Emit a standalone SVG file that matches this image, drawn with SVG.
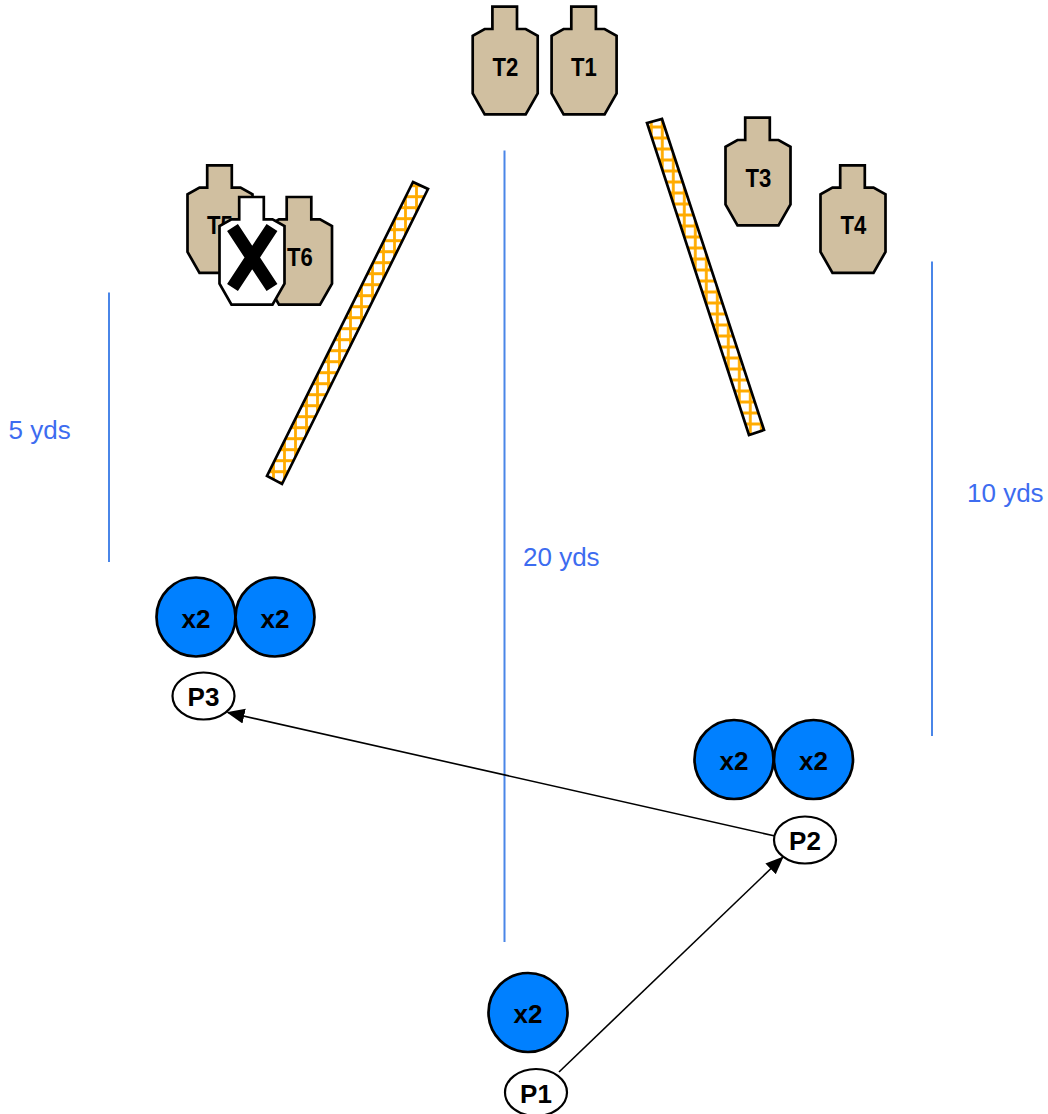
<svg xmlns="http://www.w3.org/2000/svg" width="1048" height="1114" viewBox="0 0 1048 1114">
<style>
text{font-family:"Liberation Sans",Arial,sans-serif}
.t{fill:#d0bfa0;stroke:#000;stroke-width:2.700;stroke-linejoin:miter}
.w{fill:#fff;stroke:#000;stroke-width:2.700}
.tl{font-size:26px;font-weight:bold;text-anchor:middle;fill:#000}
.lb{font-size:26px;font-weight:bold;text-anchor:middle;fill:#000}
.c{fill:#0080ff;stroke:#000;stroke-width:2.700}
.p{fill:#fff;stroke:#000;stroke-width:2.200}
.d{font-size:26px;fill:#3d6cf0}
.m{stroke:#4a86e8;stroke-width:2;fill:none}
.a{stroke:#000;stroke-width:1.600;fill:none;marker-end:url(#ah)}
.wall{stroke:#000;stroke-width:2.700}
</style>
<defs>
<path id="s" d="M19.700 0H44.300V22.300H53L65 29V86.600L53 107.600H12L0 86.600V29L12 22.300H19.700Z"/>
<marker id="ah" viewBox="0 0 12 12" refX="11" refY="6" markerWidth="18" markerHeight="18" markerUnits="userSpaceOnUse" orient="auto"><path d="M0 1L12 6L0 11Z" fill="#000"/></marker>
<pattern id="h" width="11" height="11" patternUnits="userSpaceOnUse" patternTransform="translate(4 4.200)"><rect width="11" height="11" fill="#fff"/><path d="M0 5.500H11M5.500 0V11" stroke="#ffab00" stroke-width="2.800"/></pattern>
<pattern id="h2" href="#h" patternTransform="translate(-3.200 .5)"/>
</defs>
<g id="measures">
<line class="m" x1="109" y1="292.500" x2="109" y2="562"/>
<line class="m" x1="504.500" y1="150.500" x2="504.500" y2="942"/>
<line class="m" x1="932" y1="261.500" x2="932" y2="736"/>
<text class="d" x="8.500" y="438.500">5 yds</text>
<text class="d" x="523" y="566">20 yds</text>
<text class="d" x="967" y="502">10 yds</text>
</g>
<g id="connectors">
<line class="a" x1="775" y1="836" x2="228" y2="712.500"/>
<line class="a" x1="559" y1="1072" x2="782.500" y2="857.500"/>
</g>
<g id="wall-left"><polygon class="wall" fill="url(#h)" points="413,182 428,189 282,484 267,476"/></g>
<g id="wall-right"><polygon class="wall" fill="url(#h2)" points="647,123 662,119 764,430 749,435"/></g>
<g id="T2"><use href="#s" class="t" x="472.700" y="6.700"/><text class="tl" x="505.500" y="76" transform="translate(505.500 0) scale(.85 1) translate(-505.500 0)">T2</text></g>
<g id="T1"><use href="#s" class="t" x="551.600" y="6.700"/><text class="tl" x="584" y="76" transform="translate(584 0) scale(.85 1) translate(-584 0)">T1</text></g>
<g id="T3"><use href="#s" class="t" x="725.500" y="117.700"/><text class="tl" x="758.500" y="187" transform="translate(758.500 0) scale(.85 1) translate(-758.500 0)">T3</text></g>
<g id="T4"><use href="#s" class="t" x="820.500" y="165.300"/><text class="tl" x="853.500" y="234" transform="translate(853.500 0) scale(.85 1) translate(-853.500 0)">T4</text></g>
<g id="T5"><use href="#s" class="t" x="187.500" y="165.300"/><text class="tl" x="220" y="234" transform="translate(220 0) scale(.85 1) translate(-220 0)">T5</text></g>
<g id="T6"><use href="#s" class="t" x="267" y="197"/><text class="tl" x="300" y="266" transform="translate(300 0) scale(.85 1) translate(-300 0)">T6</text></g>
<g id="no-shoot"><use href="#s" class="w" x="219.500" y="197"/><path d="M232.500 227.500L272 287.500M272 227.500L232.500 287.500" stroke="#000" stroke-width="13" fill="none"/></g>
<g id="c1"><circle class="c" cx="196" cy="617" r="39.500"/><text class="lb" x="196" y="628">x2</text></g>
<g id="c2"><circle class="c" cx="275" cy="617" r="39.500"/><text class="lb" x="275" y="628">x2</text></g>
<g id="c3"><circle class="c" cx="734" cy="759.500" r="39.500"/><text class="lb" x="734" y="769.500">x2</text></g>
<g id="c4"><circle class="c" cx="813.500" cy="759.500" r="39.500"/><text class="lb" x="813.500" y="769.500">x2</text></g>
<g id="c5"><circle class="c" cx="528" cy="1012.500" r="39.500"/><text class="lb" x="528" y="1023">x2</text></g>
<g id="P3"><ellipse class="p" cx="203.500" cy="696" rx="31" ry="23.500"/><text class="lb" x="203.500" y="706">P3</text></g>
<g id="P2"><ellipse class="p" cx="805" cy="840" rx="31" ry="23.500"/><text class="lb" x="805" y="849.500">P2</text></g>
<g id="P1"><ellipse class="p" cx="536" cy="1092.500" rx="31" ry="23.500"/><text class="lb" x="536" y="1103">P1</text></g>
</svg>
